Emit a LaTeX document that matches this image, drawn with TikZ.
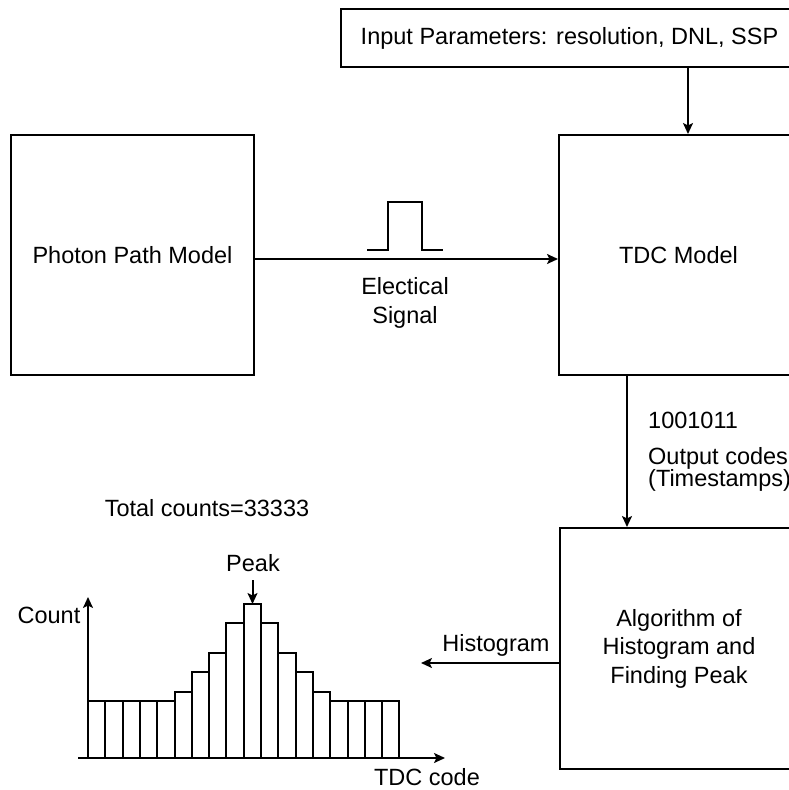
\documentclass[tikz,border=0pt]{standalone}
\usepackage{fontspec}
\setmainfont{Liberation Sans}
\usetikzlibrary{arrows.meta}
\newcommand{\diagfont}{\fontsize{23.5}{28.5}\selectfont}

\begin{document}
\begin{tikzpicture}[x=1pt,y=-1pt]
        \tikzset{
          block/.style={draw,line width=2pt,inner sep=0pt,anchor=north west,align=center,font=\diagfont},
          lbl/.style={inner sep=0pt,align=center,font=\diagfont},
          flow/.style={line width=2pt,-{Stealth[length=11pt,width=10pt,inset=2.5pt]}},
          bar/.style={line width=2pt},
        }
        \useasboundingbox (0,0) rectangle (789,790);
        \clip (0,0) rectangle (789,790);
        %BLOCKS
        \node[block,minimum width=457pt,minimum height=58pt] (params) at (340,8) {Input Parameters: resolution, DNL, SSP};
        \node[block,minimum width=243pt,minimum height=240pt] (photon) at (10,134) {Photon Path Model};
        \node[block,minimum width=239pt,minimum height=240pt] (tdc) at (558,134) {TDC Model};
        \node[block,minimum width=238pt,minimum height=241pt] (algo) at (559,527) {Algorithm of\\Histogram and\\Finding Peak};

        %ARROWS
        \coordinate (pin) at (688,0);
        \coordinate (codeline) at (627,0);
        \coordinate (histend) at (421,663);
        \draw[flow] (params.south -| pin) -- (tdc.north -| pin);
        \draw[flow] ([yshift=-4pt]photon.east) -- ([yshift=-4pt]tdc.west);
        \draw[flow] (tdc.south -| codeline) -- (algo.north -| codeline);
        \draw[flow] (algo.west |- histend) -- (histend);

        %PULSE
        \draw[line width=2pt] (367,250) -- (388,250) -- (388,202) -- (422,202) -- (422,250) -- (443,250);
        \node[lbl] (signal) at (405,303) {Electical\\Signal};

        \node[lbl,anchor=west] (bits) at (648,420) {1001011};
        \node[lbl,anchor=west,align=left,font=\fontsize{23.5}{22}\selectfont] (codes) at (648,469) {Output codes\\(Timestamps)};
        \node[lbl] (histlbl) at (496,645) {Histogram};

        %HISTOGRAM
        \coordinate (origin) at (88,758);
        \foreach \h [count=\i from 0] in {57,57,57,57,57,66,86,105,135,154,135,105,86,66,57,57,57,57}
          \draw[bar] (88+\i*17.3,758) rectangle ++(17.3,-\h);
        %AXIS Y
        \draw[flow] (origin) -- (88,597);
        %AXIS X
        \draw[flow] (78,758) -- (445,758);
        \coordinate (peaktop) at (252.5,604);
        \draw[flow] ([yshift=24pt]peaktop) -- (peaktop);

        \node[lbl] (total) at (207,508) {Total counts=33333};
        \node[lbl] (peak) at (253,563) {Peak};
        \node[lbl] (count) at (49,615) {Count};
        \node[lbl] (xlabel) at (427,777) {TDC code};
\end{tikzpicture}
\end{document}
